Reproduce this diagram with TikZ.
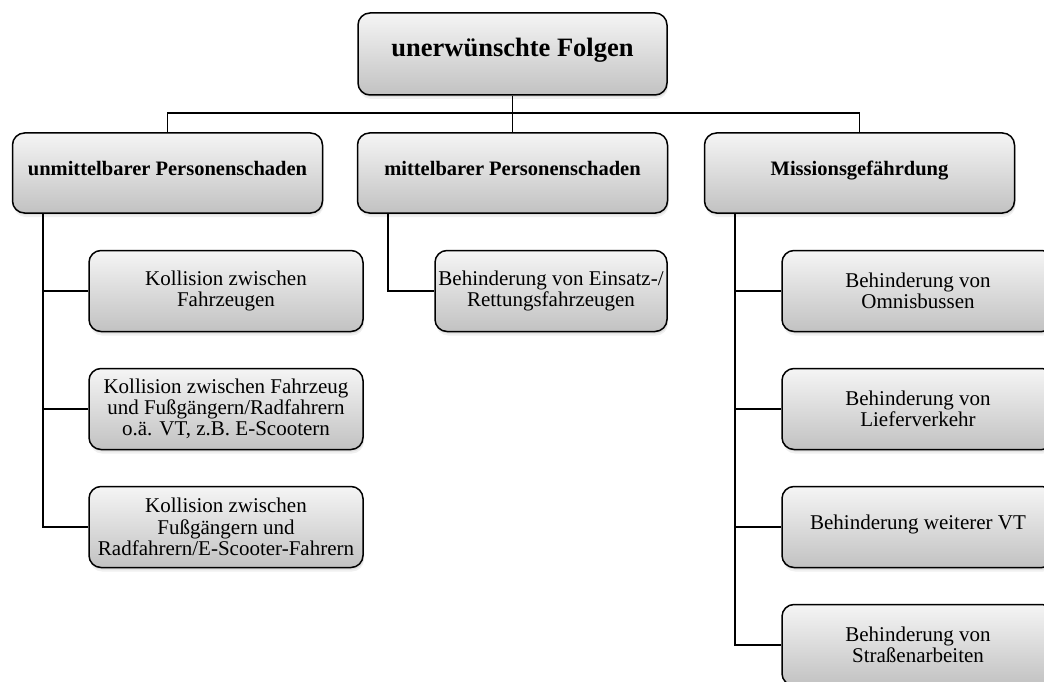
\documentclass[tikz,border=0pt]{standalone}
\usepackage{fontspec}
\setmainfont{Liberation Serif}
\usetikzlibrary{shadows}
\begin{document}
\begin{tikzpicture}[x=1pt,y=-1pt,
  box/.style={draw=black, line width=1.5pt, rounded corners=12pt, align=center,
    top color=white!96!black, bottom color=black!24, inner sep=2pt,
    drop shadow={opacity=0.12, shadow xshift=1pt, shadow yshift=-4pt},
    drop shadow={opacity=0.15, shadow xshift=1pt, shadow yshift=-2pt}},
  topbox/.style={box, minimum width=309pt, minimum height=82pt, text height=0.68em, text depth=0.22em,
    font=\fontsize{26.5}{30}\selectfont\bfseries},
  headbox/.style={box, minimum width=310pt, minimum height=80pt, text height=0.68em, text depth=0.22em,
    font=\fontsize{20.5}{24}\selectfont\bfseries},
  leafbox/.style={box, minimum height=81pt, font=\fontsize{21}{21.3}\selectfont},
  conn/.style={draw=black, line width=1.8pt}]
\useasboundingbox (0,0) rectangle (1044,682);
\clip (0,0) rectangle (1044,682);

\node[topbox] (top) at (512.5,54) {unerwünschte Folgen};

\node[headbox] (l1a) at (167.5,173) {unmittelbarer Personenschaden};
\node[headbox] (l1b) at (512.5,173) {mittelbarer Personenschaden};
\node[headbox] (l1c) at (859.5,173) {Missionsgefährdung};

\node[leafbox, minimum width=274pt] (c1) at (226,291) {Kollision zwischen\\Fahrzeugen};
\node[leafbox, minimum width=274pt] (c2) at (226,409) {Kollision zwischen Fahrzeug\\und Fußgängern/Radfahrern\\o.ä. VT, z.B. E-Scootern};
\node[leafbox, minimum width=274pt] (c3) at (226,527) {Kollision zwischen\\Fußgängern und\\Radfahrern/E-Scooter-Fahrern};

\node[leafbox, minimum width=232pt] (m1) at (551,291) {Behinderung von Einsatz-/\\Rettungsfahrzeugen};

\node[leafbox, minimum width=272pt] (r1) at (918,291) {Behinderung von\\Omnisbussen};
\node[leafbox, minimum width=272pt] (r2) at (918,409) {Behinderung von\\Lieferverkehr};
\node[leafbox, minimum width=272pt, text height=0.68em, text depth=0.22em] (r3) at (918,527) {Behinderung weiterer VT};
\node[leafbox, minimum width=272pt] (r4) at (918,645) {Behinderung von\\Straßenarbeiten};

\coordinate (bus) at (512.5,113);
\draw[conn] (top.south) -- (bus);
\draw[conn] (l1a.north) |- (bus) -| (l1c.north);
\draw[conn] (bus) -- (l1b.north);

\coordinate (la) at ([xshift=31pt]l1a.south west);
\draw[conn] (la) |- (c1.west);
\draw[conn] (la) |- (c2.west);
\draw[conn] (la) |- (c3.west);

\coordinate (lb) at ([xshift=31pt]l1b.south west);
\draw[conn] (lb) |- (m1.west);

\coordinate (lc) at ([xshift=31pt]l1c.south west);
\draw[conn] (lc) |- (r1.west);
\draw[conn] (lc) |- (r2.west);
\draw[conn] (lc) |- (r3.west);
\draw[conn] (lc) |- (r4.west);
\end{tikzpicture}
\end{document}
